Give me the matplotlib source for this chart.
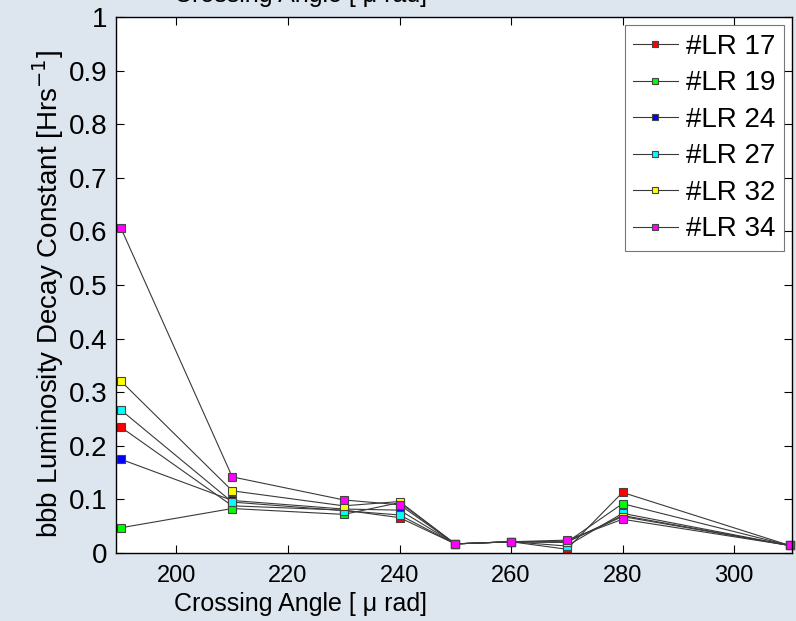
import matplotlib
matplotlib.use("Agg")
import matplotlib.pyplot as plt

angles = [190, 210, 230, 240, 250, 260, 270, 280, 310]
lr17 = [0.235, 0.088, 0.080, 0.066, 0.017, 0.021, 0.007, 0.113, 0.014]
lr19 = [0.047, 0.083, 0.072, 0.094, 0.017, 0.021, 0.020, 0.092, 0.014]
lr24 = [0.175, 0.098, 0.082, 0.080, 0.017, 0.021, 0.020, 0.070, 0.014]
lr27 = [0.267, 0.095, 0.079, 0.071, 0.017, 0.021, 0.013, 0.074, 0.014]
lr32 = [0.321, 0.116, 0.088, 0.096, 0.017, 0.021, 0.021, 0.068, 0.014]
lr34 = [0.607, 0.142, 0.099, 0.090, 0.017, 0.021, 0.024, 0.063, 0.014]

labels = ["#LR 17", "#LR 19", "#LR 24", "#LR 27", "#LR 32", "#LR 34"]
colors = ["#ff0000", "#00ff00", "#0000ff", "#00ffff", "#ffff00", "#ff00ff"]
xticks = [200, 220, 240, 260, 280, 300]
yticks = [0, 0.1, 0.2, 0.3, 0.4, 0.5, 0.6, 0.7, 0.8, 0.9, 1]
yticklabels = ["0", "0.1", "0.2", "0.3", "0.4", "0.5", "0.6", "0.7", "0.8", "0.9", "1"]

plt.rcParams['font.family'] = ['Liberation Sans', 'DejaVu Sans']

bg = "#dde5ef"
fig = plt.figure(figsize=(7.96, 6.21), dpi=100, facecolor=bg)
ax = fig.add_axes([116 / 796, 68 / 621, 676 / 796, 536 / 621])

series = [lr17, lr19, lr24, lr27, lr32, lr34]
for vals, col, lab in zip(series, colors, labels):
    ax.plot(angles, vals, color="#3a3a3a", linewidth=0.8, marker="s",
            markersize=6, markerfacecolor=col, markeredgecolor="#444444",
            markeredgewidth=0.8, label=lab, clip_on=False)

ax.set_xlim(189.15, 310.4)
ax.set_ylim(0, 1)
ax.set_xticks(xticks)
ax.set_xticklabels([str(t) for t in xticks], fontsize=17)
ax.set_yticks(yticks)
ax.set_yticklabels(yticklabels, fontsize=20)
ax.tick_params(direction="in", length=6, width=0.8, top=True, right=True, pad=6)
ax.tick_params(axis="x", pad=9)
for s in ax.spines.values():
    s.set_linewidth(1.0)

# axis title below, and the clipped copy at the very top
fig.text(300 / 796, 1 - 604 / 621, "Crossing Angle [ \u03bc rad]", ha="center", va="center",
         fontsize=18)
fig.text(300 / 796, 1 - (-5) / 621, "Crossing Angle [ \u03bc rad]", ha="center", va="center",
         fontsize=18)
fig.text(48 / 796, 1 - 294 / 621, "bbb Luminosity Decay Constant [Hrs$^{-1}$]",
         rotation=90, ha="center", va="center", fontsize=20)

leg = ax.legend(loc="upper right", fontsize=20, frameon=True, fancybox=False,
                edgecolor="#555555", borderaxespad=0.3, handlelength=1.6,
                handletextpad=0.3, labelspacing=0.38, borderpad=0.3)
leg.get_frame().set_linewidth(0.8)
for h in leg.legend_handles:
    h.set_markersize(5)

fig.savefig("out.png", dpi=100, facecolor=bg)
